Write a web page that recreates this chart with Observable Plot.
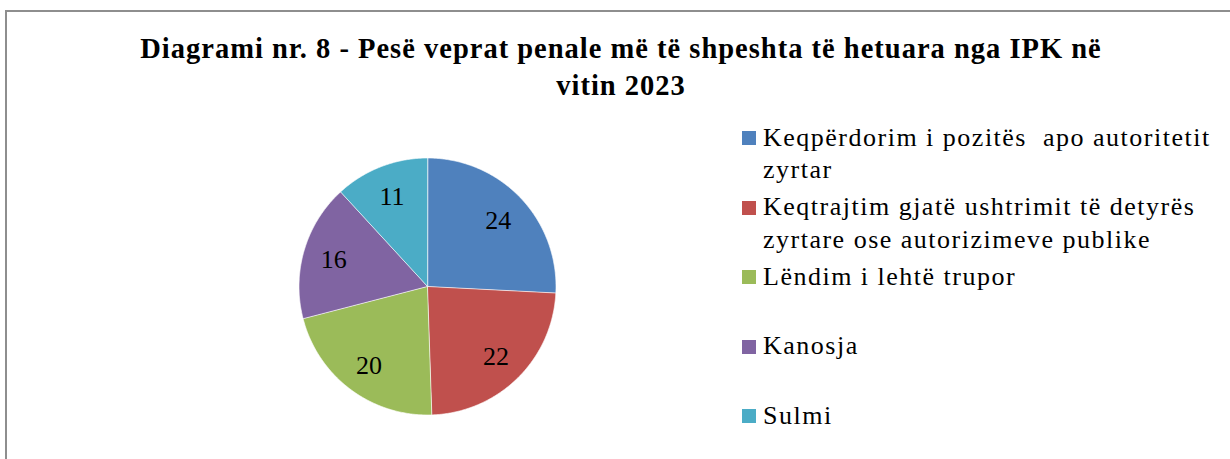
<!DOCTYPE html>
<html>
<head>
<meta charset="utf-8">
<script src="https://cdn.jsdelivr.net/npm/d3@7"></script>
<script src="https://cdn.jsdelivr.net/npm/@observablehq/plot@0.6"></script>
<style>
  html, body { margin: 0; padding: 0; background: #fff; }
  #wrap { position: relative; width: 1230px; height: 459px; overflow: hidden; font-family: "Liberation Serif", serif; color: #000; }
  #frame { position: absolute; left: 5px; top: 10px; width: 1260px; height: 480px; border: 2px solid #8e8e8e; box-sizing: border-box; }
  #title { position: absolute; left: 0px; width: 1242px; top: 30px; text-align: center; font-family: "Liberation Serif", serif; font-weight: bold; font-size: 28.5px; line-height: 37px; letter-spacing: 1px; }
  #chart { position: absolute; left: 0; top: 0; }
  .leg { position: absolute; left: 742px; top: 0; }
  .sw { position: absolute; left: 0; width: 14px; height: 14px; }
  .lt { position: absolute; left: 21px; white-space: pre; font-family: "Liberation Serif", serif; font-size: 26px; line-height: 32.5px; letter-spacing: 1.5px; }
</style>
</head>
<body>
<div id="wrap">
  <div id="frame"></div>
  <div id="chart"></div>
  <div id="title"></div>
  <div id="legend"></div>
</div>
<script>
const titleLines = ["Diagrami nr. 8 - Pesë veprat penale më të shpeshta të hetuara nga IPK në", "vitin 2023"];
const categories = [
  "Keqpërdorim i pozitës  apo autoritetit zyrtar",
  "Keqtrajtim gjatë ushtrimit të detyrës zyrtare ose autorizimeve publike",
  "Lëndim i lehtë trupor",
  "Kanosja",
  "Sulmi"
];
const legendLines = [
  ["Keqpërdorim i pozitës  apo autoritetit", "zyrtar"],
  ["Keqtrajtim gjatë ushtrimit të detyrës", "zyrtare ose autorizimeve publike"],
  ["Lëndim i lehtë trupor"],
  ["Kanosja"],
  ["Sulmi"]
];
const values = [24, 22, 20, 16, 11];
const palette = ["#4F81BD", "#C0504D", "#9BBB59", "#8064A2", "#4BACC6"];

// layout
const cx = 427, cy = 286, R = 128.5, labelR = 0.76;

const arcs = d3.pie().sort(null).value(d => d)(values);
const slices = arcs.map((a, i) => {
  const pts = [{x: 0, y: 0}];
  const n = Math.max(2, Math.ceil((a.endAngle - a.startAngle) / (Math.PI / 360)));
  for (let k = 0; k <= n; k++) {
    const t = a.startAngle + (a.endAngle - a.startAngle) * k / n;
    pts.push({x: Math.sin(t), y: Math.cos(t)});
  }
  return {cat: categories[i], pts};
});
const labels = arcs.map((a, i) => {
  const m = (a.startAngle + a.endAngle) / 2;
  return {x: labelR * Math.sin(m), y: labelR * Math.cos(m), v: values[i]};
});

const plot = Plot.plot({
  width: 1230,
  height: 459,
  margin: 0,
  x: {domain: [-1, 1], range: [cx - R, cx + R], axis: null},
  y: {domain: [-1, 1], range: [cy + R, cy - R], axis: null},
  style: {background: "transparent", fontFamily: "Liberation Serif, serif"},
  marks: [
    ...slices.map((s, i) => Plot.line(s.pts, {x: "x", y: "y", fill: palette[i], stroke: "#ffffff", strokeWidth: 0.8, strokeOpacity: 0.8, curve: "linear-closed"})),
    Plot.text(labels, {x: "x", y: "y", text: d => String(d.v), fontSize: 26, fontFamily: "Liberation Serif, serif", fill: "#000", dy: 1})
  ]
});
document.getElementById("chart").appendChild(plot);

const title = document.getElementById("title");
titleLines.forEach((t) => {
  const d = document.createElement("div");
  d.textContent = t;
  title.appendChild(d);
});

const legend = document.getElementById("legend");
const slotY0 = 138, slotStep = 69.5;
legendLines.forEach((lines, i) => {
  const c = slotY0 + i * slotStep;
  const item = document.createElement("div");
  item.className = "leg";
  const sw = document.createElement("div");
  sw.className = "sw";
  sw.style.top = (c - 7) + "px";
  sw.style.background = palette[i];
  item.appendChild(sw);
  const lt = document.createElement("div");
  lt.className = "lt";
  lt.style.top = (c - 16.5) + "px";
  lt.textContent = lines.join("\n");
  item.appendChild(lt);
  legend.appendChild(item);
});
</script>
</body>
</html>
